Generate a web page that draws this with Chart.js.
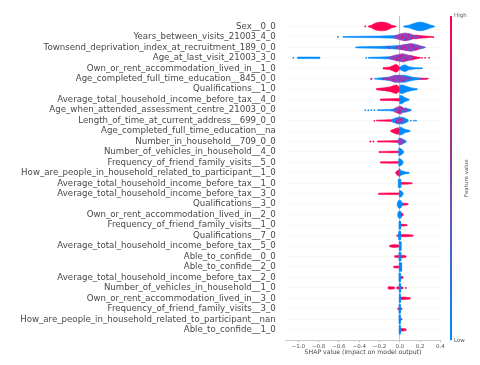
<!DOCTYPE html>
<html>
<head>
<meta charset="utf-8">
<style>
  html, body { margin: 0; padding: 0; background: #fff; }
  canvas { display: block; filter: blur(0.4px); }
</style>
<script src="https://cdn.jsdelivr.net/npm/chart.js@4/dist/chart.umd.min.js"></script>
</head>
<body>
<canvas id="chart" width="480" height="365"></canvas>
<script>
const features = [
  'Sex__0_0',
  'Years_between_visits_21003_4_0',
  'Townsend_deprivation_index_at_recruitment_189_0_0',
  'Age_at_last_visit_21003_3_0',
  'Own_or_rent_accommodation_lived_in__1_0',
  'Age_completed_full_time_education__845_0_0',
  'Qualifications__1_0',
  'Average_total_household_income_before_tax__4_0',
  'Age_when_attended_assessment_centre_21003_0_0',
  'Length_of_time_at_current_address__699_0_0',
  'Age_completed_full_time_education__na',
  'Number_in_household__709_0_0',
  'Number_of_vehicles_in_household__4_0',
  'Frequency_of_friend_family_visits__5_0',
  'How_are_people_in_household_related_to_participant__1_0',
  'Average_total_household_income_before_tax__1_0',
  'Average_total_household_income_before_tax__3_0',
  'Qualifications__3_0',
  'Own_or_rent_accommodation_lived_in__2_0',
  'Frequency_of_friend_family_visits__1_0',
  'Qualifications__7_0',
  'Average_total_household_income_before_tax__5_0',
  'Able_to_confide__0_0',
  'Able_to_confide__2_0',
  'Average_total_household_income_before_tax__2_0',
  'Number_of_vehicles_in_household__1_0',
  'Own_or_rent_accommodation_lived_in__3_0',
  'Frequency_of_friend_family_visits__3_0',
  'How_are_people_in_household_related_to_participant__nan',
  'Able_to_confide__1_0'
];
const xTicks = [-1.0, -0.8, -0.6, -0.4, -0.2, 0.0, 0.2, 0.4];

// swarm outlines: [row, [[shap, half thickness in rows], ...]]
const redBands = [
  [1, [[-0.31, 0.04], [-0.28, 0.12], [-0.25, 0.28], [-0.22, 0.38], [-0.18, 0.42], [-0.14, 0.38], [-0.11, 0.28], [-0.08, 0.12], [-0.04, 0.05]]],
  [2, [[0.1, 0.12], [0.16, 0.18], [0.22, 0.1], [0.32, 0.04]]],
  [3, [[0.14, 0.1], [0.2, 0.08], [0.25, 0.03]]],
  [4, [[0.06, 0.18], [0.11, 0.22], [0.16, 0.1], [0.2, 0.04]]],
  [5, [[-0.165, 0.06], [-0.1, 0.12], [-0.06, 0.28], [-0.04, 0.38], [-0.02, 0.3], [-0.005, 0.1]]],
  [6, [[-0.2, 0.03], [-0.1, 0.08], [0.1, 0.08], [0.2, 0.06], [0.28, 0.03]]],
  [7, [[-0.23, 0.06], [-0.15, 0.14], [-0.09, 0.24], [-0.05, 0.38], [-0.03, 0.4], [-0.005, 0.2]]],
  [8, [[-0.19, 0.07], [-0.1, 0.08], [-0.02, 0.12], [0, 0.12]]],
  [9, [[-0.05, 0.2], [0, 0.22], [0.04, 0.15]]],
  [10, [[-0.23, 0.04], [-0.12, 0.07], [-0.05, 0.1], [0.02, 0.1]]],
  [11, [[-0.09, 0.05], [-0.06, 0.18], [-0.02, 0.32], [0, 0.2]]],
  [12, [[-0.22, 0.05], [-0.1, 0.06], [-0.02, 0.1], [0, 0.1]]],
  [13, [[-0.18, 0.05], [-0.1, 0.07], [0, 0.08]]],
  [14, [[-0.19, 0.06], [-0.1, 0.07], [0, 0.08]]],
  [15, [[-0.04, 0.06], [-0.02, 0.25], [0, 0.3]]],
  [16, [[0, 0.1], [0.06, 0.08], [0.12, 0.05]]],
  [17, [[-0.21, 0.06], [-0.1, 0.08], [0, 0.08]]],
  [18, [[0, 0.12], [0.04, 0.1], [0.08, 0.06]]],
  [19, [[-0.005, 0.2], [0.01, 0.22], [0.03, 0.1]]],
  [20, [[0, 0.1], [0.04, 0.08], [0.07, 0.05]]],
  [21, [[-0.03, 0.05], [0, 0.1], [0.07, 0.1], [0.13, 0.05]]],
  [22, [[-0.1, 0.07], [-0.06, 0.14], [-0.01, 0.1]]],
  [23, [[-0.05, 0.08], [0, 0.12], [0.03, 0.12], [0.06, 0.07]]],
  [24, [[-0.06, 0.07], [-0.03, 0.1], [0, 0.07]]],
  [25, [[0.005, 0.12], [0.02, 0.12], [0.03, 0.08]]],
  [26, [[-0.115, 0.1], [-0.08, 0.12], [-0.055, 0.08]]],
  [26, [[-0.03, 0.08], [0, 0.12], [0.03, 0.08]]],
  [27, [[0, 0.12], [0.05, 0.12], [0.1, 0.07]]],
  [28, [[-0.02, 0.06], [0, 0.12], [0.02, 0.07]]],
  [29, [[0.005, 0.08], [0.02, 0.06]]],
  [30, [[0, 0.14], [0.03, 0.13], [0.06, 0.08]]]
];
const blueBands = [
  [1, [[0.04, 0.05], [0.09, 0.12], [0.13, 0.26], [0.17, 0.38], [0.2, 0.42], [0.23, 0.38], [0.27, 0.26], [0.31, 0.12], [0.34, 0.04]]],
  [2, [[-0.56, 0.04], [-0.4, 0.06], [-0.2, 0.08], [-0.05, 0.13], [0.02, 0.18]]],
  [3, [[-0.42, 0.05], [-0.25, 0.08], [-0.1, 0.12], [0, 0.18], [0.1, 0.25], [0.24, 0.06]]],
  [4, [[-1.01, 0.07], [-0.79, 0.07]]],
  [4, [[-0.31, 0.05], [-0.2, 0.07], [-0.1, 0.11], [-0.04, 0.18]]],
  [5, [[0, 0.1], [0.02, 0.22], [0.05, 0.34], [0.09, 0.15], [0.15, 0.06], [0.22, 0.04]]],
  [6, [[-0.25, 0.03], [-0.1, 0.16], [-0.02, 0.34], [0.05, 0.34], [0.12, 0.16], [0.2, 0.05]]],
  [7, [[0, 0.38], [0.03, 0.4], [0.07, 0.25], [0.12, 0.12], [0.17, 0.05]]],
  [8, [[0, 0.38], [0.02, 0.4], [0.05, 0.2], [0.09, 0.05]]],
  [9, [[-0.22, 0.04], [-0.1, 0.06], [-0.04, 0.12], [0.06, 0.2], [0.11, 0.05]]],
  [10, [[-0.08, 0.1], [-0.02, 0.32], [0.03, 0.32], [0.08, 0.1]]],
  [11, [[-0.005, 0.38], [0.02, 0.35], [0.05, 0.17], [0.1, 0.05]]],
  [12, [[-0.01, 0.3], [0.02, 0.28], [0.06, 0.07]]],
  [13, [[-0.01, 0.35], [0.015, 0.3], [0.035, 0.1]]],
  [14, [[-0.01, 0.35], [0.015, 0.3], [0.03, 0.1]]],
  [15, [[-0.005, 0.42], [0.01, 0.22], [0.05, 0.1], [0.09, 0.05]]],
  [16, [[-0.015, 0.4], [0.005, 0.4], [0.012, 0.1]]],
  [17, [[-0.005, 0.3], [0.015, 0.3], [0.03, 0.1]]],
  [18, [[-0.025, 0.12], [-0.01, 0.38], [0.01, 0.36], [0.025, 0.1]]],
  [19, [[-0.02, 0.14], [-0.008, 0.35], [0.005, 0.34], [0.012, 0.1]]],
  [20, [[-0.008, 0.38], [0.008, 0.38]]],
  [21, [[-0.012, 0.4], [0.008, 0.4]]],
  [22, [[-0.006, 0.42], [0.012, 0.42]]],
  [23, [[-0.008, 0.42], [0.01, 0.42]]],
  [24, [[-0.006, 0.42], [0.018, 0.4]]],
  [25, [[-0.008, 0.42], [0.006, 0.42]]],
  [26, [[-0.006, 0.42], [0.008, 0.42]]],
  [27, [[-0.005, 0.42], [0.006, 0.42]]],
  [28, [[-0.008, 0.42], [0.006, 0.42]]],
  [29, [[-0.008, 0.42], [0.005, 0.42]]],
  [30, [[-0.006, 0.42], [0.005, 0.42]]]
];
const mixedBands = [
  [2, [[-0.06, 0.08], [-0.01, 0.24], [0.05, 0.38], [0.1, 0.3], [0.15, 0.12], [0.2, 0.05]]],
  [3, [[-0.04, 0.06], [0.03, 0.24], [0.11, 0.38], [0.17, 0.26], [0.22, 0.08]]],
  [4, [[-0.11, 0.06], [-0.05, 0.24], [0.03, 0.4], [0.08, 0.28], [0.13, 0.08]]],
  [6, [[-0.16, 0.05], [-0.1, 0.14], [-0.05, 0.34], [0.01, 0.28], [0.08, 0.1]]],
  [9, [[-0.05, 0.08], [-0.02, 0.32], [0.01, 0.38], [0.04, 0.18], [0.08, 0.04]]],
  [10, [[-0.04, 0.1], [0, 0.24], [0.04, 0.1]]],
  [12, [[-0.02, 0.1], [0.005, 0.3], [0.04, 0.08]]]
];
// loose points and speckle: [shap, row position]
const redDots = [
  [-0.34, 1], [0.33, 2.02], [-0.1, 3.08], [-0.12, 2.92], [-0.04, 3.05], [0.02, 3.1], [-0.02, 4.02],
  [0.22, 4], [0.25, 4], [0.29, 4], [-0.28, 6.02], [-0.16, 6], [0.22, 6], [0.26, 6],
  [-0.29, 12], [-0.26, 12], [-0.2, 13], [0.06, 26], [-0.19, 13.02], [-0.25, 10.02],
  [0.02, 1.75], [0.06, 2.2], [0.09, 1.85], [0.03, 2.05], [0.12, 2.1], [0.07, 3.2], [0.13, 2.85],
  [0.16, 3.15], [0.05, 2.95], [0.0, 3.85], [0.05, 4.2], [0.02, 3.8], [0.07, 4.05], [-0.03, 4.2],
  [-0.06, 6.1], [-0.02, 5.85], [0.03, 6.15], [0.1, 5.95], [-0.12, 6.02], [-0.01, 9.2], [0.02, 8.8], [0.0, 9.05],
  [-0.03, 10.15], [0.01, 9.88]
];
const blueDots = [
  [-0.61, 2], [-1.05, 4], [-0.96, 4], [-0.34, 9], [-0.31, 9.02], [-0.28, 9], [-0.25, 9],
  [0.11, 10], [0.14, 10], [0.16, 10], [-0.43, 3], [-0.33, 4],
  [0.04, 2.18], [0.1, 1.9], [0.08, 3.18], [0.14, 2.8], [-0.02, 4.15], [0.04, 3.95],
  [-0.03, 5.9], [0.03, 6.12], [0.03, 9.1], [0.0, 3.02]
];
const mixedDots = [[-0.28, 6], [0.24, 6.02]];

const RED = '#ff0052', BLUE = '#008bfb', MIXED = '#9340bc';

// closed outline round a row, top edge forward and bottom edge back
function outline(row, pts) {
  const top = pts.map(p => ({ x: p[0], y: row - p[1] }));
  const bottom = pts.slice().reverse().map(p => ({ x: p[0], y: row + p[1] }));
  return top.concat(bottom, [top[0]]);
}
function bandSets(bands, colour) {
  return bands.map(b => ({
    data: outline(b[0], b[1]),
    showLine: true,
    fill: 'shape',
    tension: 0,
    backgroundColor: colour,
    borderColor: colour,
    borderWidth: 0.6,
    pointRadius: 0
  }));
}
function dotSet(dots, colour) {
  return {
    data: dots.map(d => ({ x: d[0], y: d[1] })),
    backgroundColor: colour,
    borderWidth: 0,
    pointRadius: 0.9
  };
}

const colourBar = {
  id: 'colourBar',
  afterDraw(chart) {
    const ctx = chart.ctx;
    const top = chart.scales.y.top, bottom = chart.scales.y.bottom;
    const grad = ctx.createLinearGradient(0, top, 0, bottom);
    grad.addColorStop(0, RED);
    grad.addColorStop(1, BLUE);
    ctx.save();
    ctx.fillStyle = grad;
    ctx.fillRect(450, top, 2, bottom - top);
    ctx.fillStyle = '#555';
    ctx.font = '5.5px "DejaVu Sans"';
    ctx.textBaseline = 'middle';
    ctx.fillText('High', 454, top);
    ctx.fillText('Low', 454, bottom);
    ctx.translate(467, (top + bottom) / 2);
    ctx.rotate(-Math.PI / 2);
    ctx.textAlign = 'center';
    ctx.fillText('Feature value', 0, 0);
    ctx.restore();
  }
};

new Chart(document.getElementById('chart'), {
  type: 'scatter',
  data: {
    datasets: [
      dotSet(mixedDots, MIXED),
      dotSet(redDots, RED),
      dotSet(blueDots, BLUE)
    ].concat(bandSets(mixedBands, MIXED), bandSets(blueBands, BLUE), bandSets(redBands, RED))
  },
  options: {
    responsive: false,
    animation: false,
    layout: { padding: { top: 16, right: 39.7 } },
    plugins: { legend: { display: false }, tooltip: { enabled: false } },
    scales: {
      x: {
        min: -1.125,
        max: 0.4,
        afterBuildTicks: axis => { axis.ticks = xTicks.map(v => ({ value: v })); },
        afterFit: axis => { axis.height = 24.8; },
        border: { color: '#c8c8c8', width: 1 },
        grid: {
          color: c => (c.tick && c.tick.value === 0 ? '#c4c4c4' : 'rgba(0,0,0,0)'),
          tickColor: '#bbb',
          tickLength: 2
        },
        ticks: {
          maxRotation: 0,
          autoSkip: false,
          padding: 1,
          color: '#555',
          font: { family: 'DejaVu Sans', size: 5.5 },
          callback: v => v.toFixed(1).replace('-', '\u2212')
        },
        title: {
          display: true,
          text: 'SHAP value (impact on model output)',
          color: '#444',
          padding: { top: 0, bottom: 8.5 },
          font: { family: 'DejaVu Sans', size: 6.2 }
        }
      },
      y: {
        reverse: true,
        min: 0,
        max: 31,
        afterBuildTicks: axis => { axis.ticks = features.map((f, i) => ({ value: i + 1 })); },
        afterFit: axis => { axis.width = 285.7; },
        border: { display: false },
        grid: {
          color: 'rgba(0,0,0,0.06)',
          lineWidth: 0.5,
          drawTicks: false
        },
        ticks: {
          autoSkip: false,
          padding: 10,
          color: '#484848',
          font: { family: 'DejaVu Sans', size: 8.65 },
          callback: v => features[v - 1]
        }
      }
    }
  },
  plugins: [colourBar]
});
</script>
</body>
</html>
